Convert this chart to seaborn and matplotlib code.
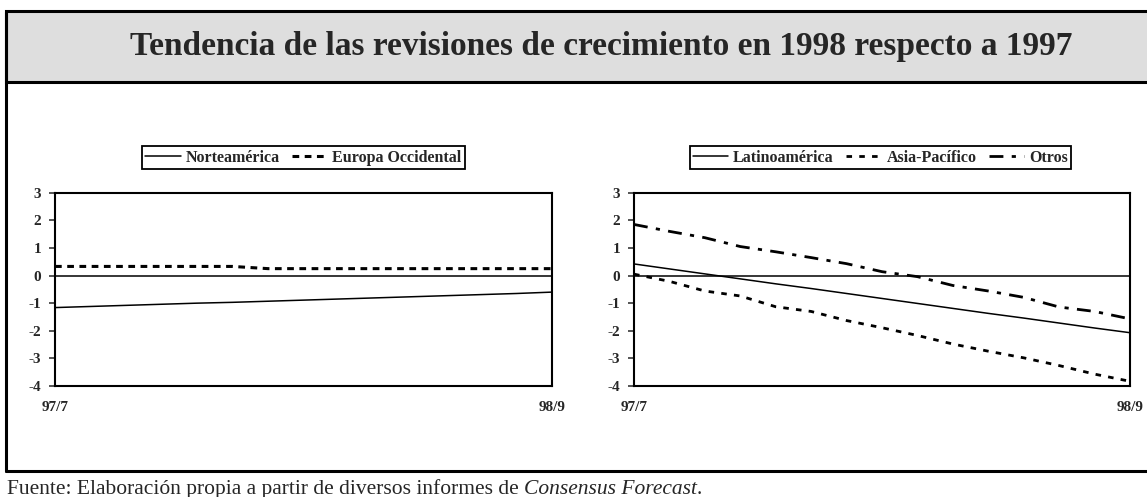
import numpy as np
import pandas as pd
import matplotlib
matplotlib.use("Agg")
import matplotlib.pyplot as plt
from matplotlib.patches import Rectangle
from matplotlib.lines import Line2D
import seaborn as sns

# ---------------- data ----------------
meses = ["97/7", "97/8", "97/9", "97/10", "97/11", "97/12", "98/1", "98/2",
         "98/3", "98/4", "98/5", "98/6", "98/7", "98/8", "98/9"]
norteamerica = [-1.16, -1.12, -1.08, -1.04, -1.0, -0.97, -0.93, -0.89,
                -0.85, -0.81, -0.77, -0.73, -0.69, -0.65, -0.60]
europa_occidental = [0.33, 0.33, 0.33, 0.33, 0.33, 0.33, 0.25, 0.25,
                     0.25, 0.25, 0.25, 0.25, 0.25, 0.25, 0.25]
latinoamerica = [0.42, 0.24, 0.06, -0.12, -0.30, -0.47, -0.65, -0.83,
                 -1.01, -1.19, -1.37, -1.54, -1.72, -1.90, -2.07]
asia_pacifico = [0.05, -0.21, -0.56, -0.74, -1.13, -1.30, -1.63, -1.89,
                 -2.17, -2.48, -2.74, -2.98, -3.26, -3.57, -3.83]
otros = [1.85, 1.60, 1.37, 1.05, 0.86, 0.65, 0.43, 0.14,
         -0.04, -0.36, -0.56, -0.79, -1.14, -1.30, -1.57]
tick_labels = ["97/7", "98/9"]
yticks = [-4, -3, -2, -1, 0, 1, 2, 3]

titulo = "Tendencia de las revisiones de crecimiento en 1998 respecto a 1997"
fuente_a = "Fuente: Elaboración propia a partir de diversos informes de "
fuente_b = "Consensus Forecast"
fuente_c = "."

# ---------------- style ----------------
sns.set_style("white")
plt.rcParams["font.family"] = ["Liberation Serif", "DejaVu Serif"]
plt.rcParams["font.weight"] = "bold"

W, H = 1147, 497
fig = plt.figure(figsize=(W / 100, H / 100), dpi=100)
fig.patch.set_facecolor("white")


def fx(x):
    return x / W


def fy(y):
    return 1 - y / H


x = np.arange(len(meses))

styles = {
    "Norteamérica": dict(lw=1.1, dashes=None),
    "Europa Occidental": dict(lw=2.2, dashes=(2.2, 1.8)),
    "Latinoamérica": dict(lw=1.1, dashes=None),
    "Asia-Pacífico": dict(lw=2.0, dashes=(2.0, 2.6)),
    "Otros": dict(lw=2.0, dashes=(5.0, 3.0, 1.5, 3.0)),
}

panels = [
    ([55, 552], [("Norteamérica", norteamerica), ("Europa Occidental", europa_occidental)], 303.5),
    ([634, 1130], [("Latinoamérica", latinoamerica), ("Asia-Pacífico", asia_pacifico), ("Otros", otros)], 880.5),
]

top_px, bot_px = 192.7, 386.0
for (x0, x1), series, leg_cx in panels:
    ax = fig.add_axes([fx(x0), fy(bot_px), (x1 - x0) / W, (bot_px - top_px) / H])
    ax.set_facecolor("white")
    ax.axhline(0, color="black", lw=1.1, zorder=1)
    handles = []
    for name, vals in series:
        st = styles[name]
        df = pd.DataFrame({"x": x, "v": vals})
        sns.lineplot(data=df, x="x", y="v", ax=ax, color="black", lw=st["lw"], zorder=3)
        ln = ax.get_lines()[-1]
        if st["dashes"] is not None:
            ln.set_dashes(st["dashes"])
        ln.set_solid_capstyle("butt")
        ln.set_dash_capstyle("butt")
        h = Line2D([], [], color="black", lw=st["lw"])
        if st["dashes"] is not None:
            h.set_dashes(st["dashes"])
            h.set_dash_capstyle("butt")
        handles.append((h, name))
    ax.set_xlim(0, len(meses) - 1)
    ax.set_ylim(-4, 3)
    ax.set_yticks(yticks)
    ax.set_yticklabels([str(v) for v in yticks], fontsize=11, fontweight="bold")
    ax.set_xticks([0, len(meses) - 1])
    ax.set_xticklabels(tick_labels, fontsize=11, fontweight="bold")
    ax.tick_params(axis="x", length=0, pad=11)
    ax.tick_params(axis="y", length=4.5, width=1.1, direction="out", pad=5.5, left=True)
    ax.set_xlabel("")
    ax.set_ylabel("")
    for sp in ax.spines.values():
        sp.set_visible(True)
        sp.set_color("black")
        sp.set_linewidth(1.5)
    leg = ax.legend([h for h, _ in handles], [n for _, n in handles],
                    loc="center", bbox_to_anchor=(fx(leg_cx), fy(157.5)),
                    bbox_transform=fig.transFigure, ncol=len(handles),
                    frameon=True, fancybox=False, edgecolor="black", framealpha=1,
                    prop=dict(family="Liberation Serif", weight="bold", size=11.5),
                    handlelength=2.2, handletextpad=0.3, columnspacing=0.8,
                    borderpad=0.2, borderaxespad=0)
    leg.get_frame().set_linewidth(1.3)

# ---------------- frame ----------------
frame_lw = 2.2
band_bottom = 81.5
foot_line = 471
fig.add_artist(Rectangle((fx(6), fy(band_bottom)), fx(1160) - fx(6), fy(11.5) - fy(band_bottom),
                         transform=fig.transFigure, facecolor="#dedede",
                         edgecolor="black", lw=frame_lw, zorder=0))
fig.add_artist(Line2D([fx(6), fx(6)], [fy(11.5), fy(foot_line)], transform=fig.transFigure,
                      color="black", lw=frame_lw))
fig.add_artist(Line2D([fx(6), fx(1150)], [fy(foot_line), fy(foot_line)], transform=fig.transFigure,
                      color="black", lw=frame_lw))

fig.text(fx(130), fy(46.5), titulo, ha="left", va="center",
         fontsize=24, fontweight="bold", family="Liberation Serif")

# footer with italic part
fig.canvas.draw()
r = fig.canvas.get_renderer()
t1 = fig.text(fx(7), fy(494), fuente_a, ha="left", va="baseline",
              fontsize=15.5, fontweight="normal", family="Liberation Serif")
bb = t1.get_window_extent(renderer=r)
t2 = fig.text(bb.x1 / W, fy(494), fuente_b, ha="left", va="baseline",
              fontsize=15.5, fontweight="normal", style="italic", family="Liberation Serif")
bb2 = t2.get_window_extent(renderer=r)
fig.text(bb2.x1 / W, fy(494), fuente_c, ha="left", va="baseline",
         fontsize=15.5, fontweight="normal", family="Liberation Serif")

fig.savefig("out.png", dpi=100)
